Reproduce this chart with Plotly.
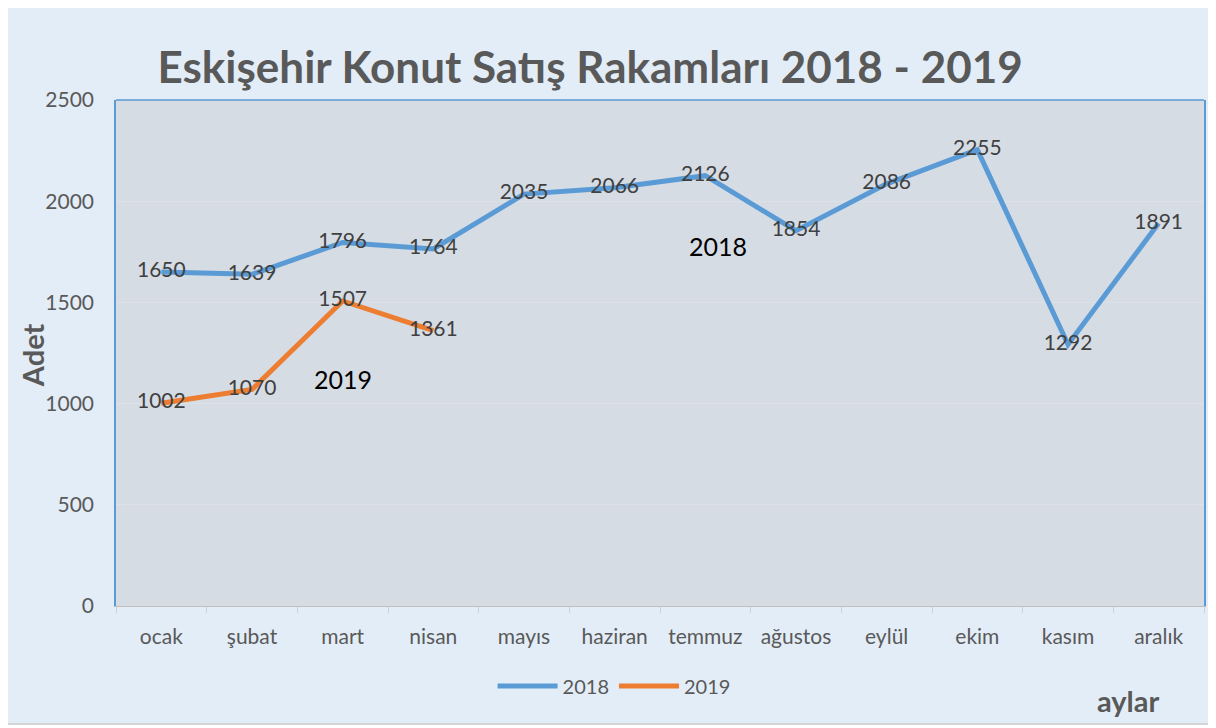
import plotly.graph_objects as go

months = ["ocak", "şubat", "mart", "nisan", "mayıs", "haziran", "temmuz",
          "ağustos", "eylül", "ekim", "kasım", "aralık"]
sales_2018 = [1650, 1639, 1796, 1764, 2035, 2066, 2126, 1854, 2086, 2255, 1292, 1891]
months_2019 = ["ocak", "şubat", "mart", "nisan"]
sales_2019 = [1002, 1070, 1507, 1361]
y_ticks = [0, 500, 1000, 1500, 2000, 2500]

FONT = "Lato, 'Open Sans', sans-serif"
GREY = "#595959"

# page body has an 8px margin; figure coordinates = screen - 8
OFF = 8
W, H = 1208, 720
PL, PR, PT, PB = 116, 1206, 100, 606  # plot area in screen px
L, R, T, B = PL - OFF, W - (PR - OFF), PT - OFF, H - (PB - OFF)


def px(xs):
    return (xs - PL) / (PR - PL)


def py(ys):
    return (PB - ys) / (PB - PT)


fig = go.Figure()
fig.add_trace(go.Scatter(
    x=months, y=sales_2018, name="2018", mode="lines+text",
    line=dict(color="#5B9BD5", width=5),
    text=[str(v) for v in sales_2018], textposition="middle center",
    textfont=dict(family=FONT, size=21, color="#404040"),
))
fig.add_trace(go.Scatter(
    x=months_2019, y=sales_2019, name="2019", mode="lines+text",
    line=dict(color="#ED7D31", width=5),
    text=[str(v) for v in sales_2019], textposition="middle center",
    textfont=dict(family=FONT, size=21, color="#404040"),
))

fig.update_layout(
    width=W, height=H,
    margin=dict(l=L, r=R, t=T, b=B),
    paper_bgcolor="white",
    plot_bgcolor="#D6DCE4",
    font=dict(family=FONT, color=GREY, size=21),
    title=dict(text="<b>Eskişehir Konut Satış Rakamları 2018 - 2019</b>",
               xref="paper", x=px(591), xanchor="center",
               yref="container", y=1 - (68 - OFF) / H, yanchor="middle",
               font=dict(family=FONT, size=44, color=GREY)),
    showlegend=True,
    legend=dict(orientation="h", x=px(615), xanchor="center", y=py(686), yanchor="middle",
                font=dict(family=FONT, size=20, color=GREY), bgcolor="rgba(0,0,0,0)",
                itemwidth=60),
    xaxis=dict(categoryorder="array", categoryarray=months, range=[-0.5, 11.5],
               showline=True, linecolor="#BFBFBF", linewidth=1,
               ticks="outside", tickson="boundaries", ticklen=6, tickcolor="#D0D0D0",
               showgrid=False, tickfont=dict(size=21, color=GREY), ticklabelstandoff=12),
    yaxis=dict(range=[0, 2500], tickvals=y_ticks, showline=True, linecolor="#5B9BD5",
               linewidth=1.5, mirror=True, showgrid=True, gridcolor="#DCE1E7",
               zeroline=False, ticks="", tickfont=dict(size=21, color=GREY),
               ticklabelstandoff=16),
    shapes=[
        dict(type="rect", xref="paper", yref="paper", x0=px(6), x1=px(1213),
             y0=py(724), y1=py(1), fillcolor="#E3EDF7", line=dict(color="#D4D4D4", width=2),
             layer="below"),
        dict(type="rect", xref="paper", yref="paper", x0=0, x1=1, y0=0, y1=1,
             fillcolor="#D6DCE4", line=dict(width=0), layer="below"),
        dict(type="line", xref="paper", yref="paper", x0=0, x1=1, y0=1, y1=1,
             line=dict(color="#5B9BD5", width=1.5)),
    ],
    annotations=[
        dict(text="2018", x="temmuz", y=1779, xref="x", yref="y", showarrow=False,
             xshift=13, font=dict(family=FONT, size=25, color="black")),
        dict(text="2019", x="mart", y=1121, xref="x", yref="y", showarrow=False,
             xshift=0, font=dict(family=FONT, size=25, color="black")),
        dict(text="<b>aylar</b>", x=px(1130), y=py(700), xref="paper", yref="paper",
             xanchor="center", yanchor="middle",
             showarrow=False, font=dict(family=FONT, size=29, color=GREY)),
        dict(text="<b>Adet</b>", x=px(32), y=py(355), xref="paper", yref="paper",
             xanchor="center", yanchor="middle",
             showarrow=False, textangle=-90, font=dict(family=FONT, size=29, color=GREY)),
    ],
)

fig.write_html("out.html")
